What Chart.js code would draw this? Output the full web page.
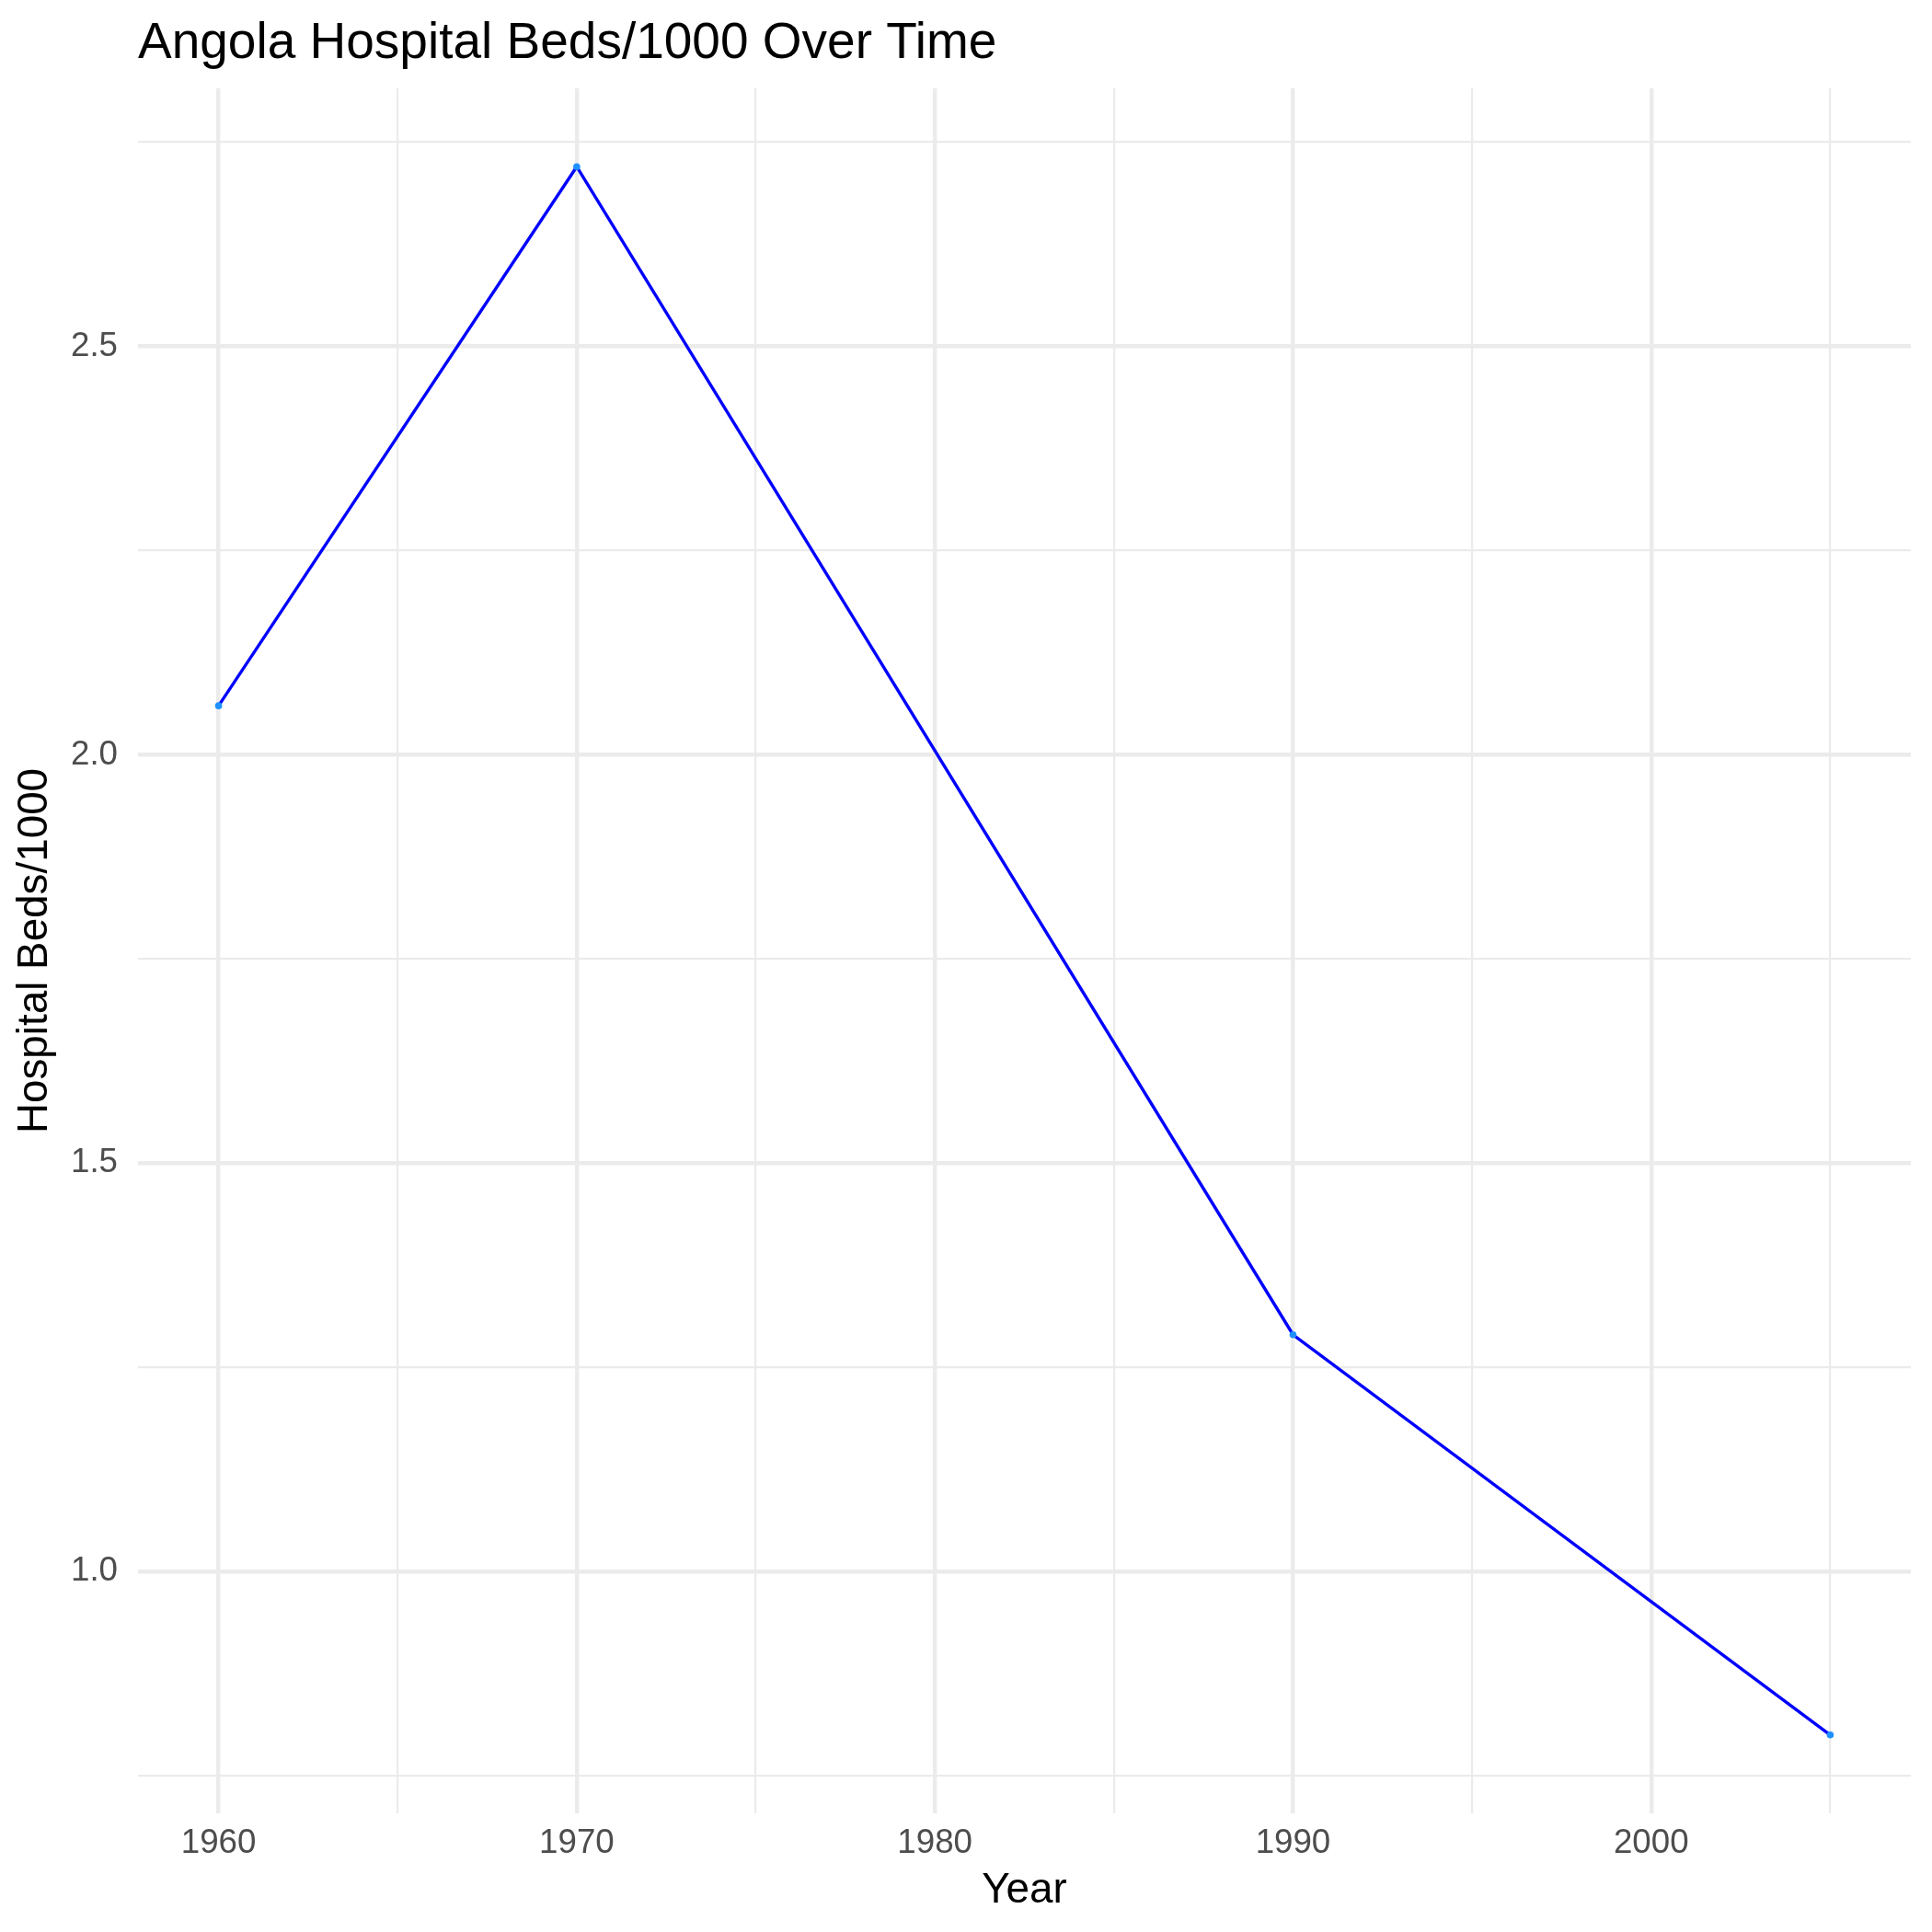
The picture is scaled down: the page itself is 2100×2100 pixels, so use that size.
<!DOCTYPE html>
<html>
<head>
<meta charset="utf-8">
<script src="https://cdn.jsdelivr.net/npm/chart.js@4/dist/chart.umd.min.js"></script>
<style>
  html, body { margin: 0; padding: 0; background: #ffffff; }
  #wrap { width: 2100px; height: 2100px; }
  canvas { display: block; }
</style>
</head>
<body>
<div id="wrap"><canvas id="c" width="2100" height="2100"></canvas></div>
<script>
// ---- data ----
const years = [1960, 1970, 1990, 2005];
const beds = [2.06, 2.72, 1.29, 0.80];
const chartTitle = 'Angola Hospital Beds/1000 Over Time';
const xTitle = 'Year';
const yTitle = 'Hospital Beds/1000';
const xMajorTicks = [1960, 1970, 1980, 1990, 2000];
const yMajorTicks = [1.0, 1.5, 2.0, 2.5];

const FONT = "'Liberation Sans', Arial, Helvetica, sans-serif";
const GRID = '#EBEBEB';

// ggplot-like 5% expansion of the data range
const xMin = Math.min(...years), xMax = Math.max(...years);
const yMin = Math.min(...beds), yMax = Math.max(...beds);
const xPad = (xMax - xMin) * 0.05, yPad = (yMax - yMin) * 0.05;

const isMajorX = v => xMajorTicks.some(t => Math.abs(t - v) < 1e-6);
const isMajorY = v => yMajorTicks.some(t => Math.abs(t - v) < 1e-6);

const points = years.map((y, i) => ({ x: y, y: beds[i] }));

new Chart(document.getElementById('c'), {
  type: 'line',
  data: {
    datasets: [{
      data: points,
      borderColor: '#0000FF',
      borderWidth: 3.4,
      pointRadius: 3.8,
      pointBackgroundColor: '#1E90FF',
      pointBorderWidth: 0,
      pointHoverRadius: 3.8,
      tension: 0,
      fill: false
    }]
  },
  options: {
    responsive: false,
    devicePixelRatio: 1,
    animation: false,
    layout: { padding: { left: 0, right: 23, top: 0, bottom: 0 } },
    plugins: {
      legend: { display: false },
      tooltip: { enabled: false },
      title: {
        display: true,
        text: chartTitle,
        align: 'start',
        fullSize: false,
        color: '#000000',
        font: { family: FONT, size: 55, weight: 'normal' },
        padding: { top: 15, bottom: 15 }
      }
    },
    scales: {
      x: {
        type: 'linear',
        min: xMin - xPad,
        max: xMax + xPad,
        afterFit: s => { s.height = 129; },
        grid: {
          color: GRID,
          lineWidth: ctx => isMajorX(ctx.tick.value) ? 4.4 : 2.2,
          drawTicks: false
        },
        border: { display: false },
        ticks: {
          stepSize: 5,
          includeBounds: false,
          padding: 11,
          color: '#4D4D4D',
          font: { family: FONT, size: 36.7 },
          maxRotation: 0,
          autoSkip: false,
          callback: v => isMajorX(v) ? String(Math.round(v)) : ''
        },
        title: {
          display: true,
          text: xTitle,
          color: '#000000',
          font: { family: FONT, size: 45.8 },
          padding: { top: 0, bottom: 17 }
        }
      },
      y: {
        type: 'linear',
        min: yMin - yPad,
        max: yMax + yPad,
        afterFit: s => { s.width = 150; },
        grid: {
          color: GRID,
          lineWidth: ctx => isMajorY(ctx.tick.value) ? 4.4 : 2.2,
          drawTicks: false
        },
        border: { display: false },
        ticks: {
          stepSize: 0.25,
          includeBounds: false,
          padding: 22,
          color: '#4D4D4D',
          font: { family: FONT, size: 36.7 },
          autoSkip: false,
          callback: v => isMajorY(v) ? Number(v).toFixed(1) : ''
        },
        title: {
          display: true,
          text: yTitle,
          color: '#000000',
          font: { family: FONT, size: 45.8 },
          padding: { top: 11, bottom: 0 }
        }
      }
    }
  }
});
</script>
</body>
</html>
